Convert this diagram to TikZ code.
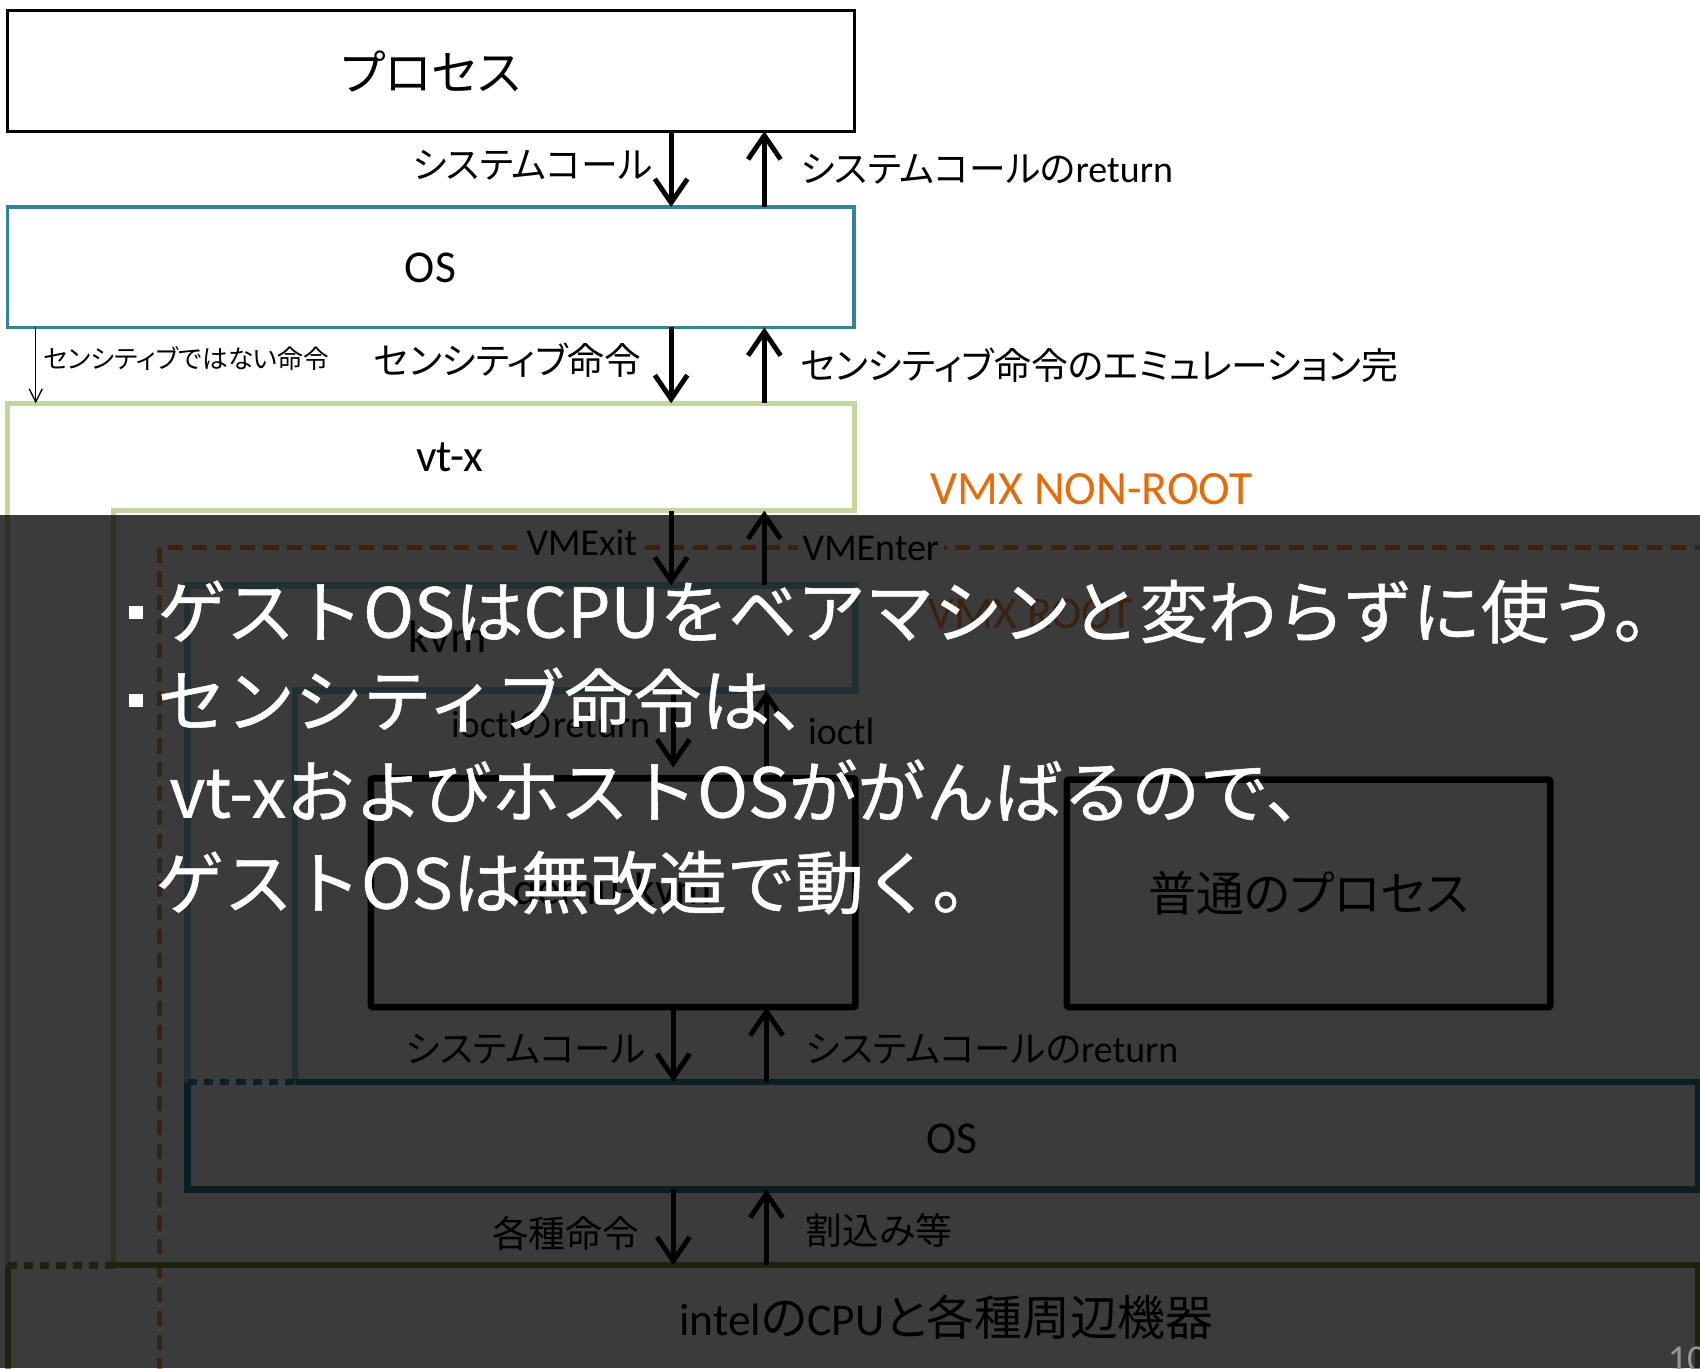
\documentclass[tikz,border=0pt]{standalone}
\usepackage{fontspec}
\setmainfont{Carlito}
\newfontfamily\jp[Scale=0.97,RawFeature=+palt]{Noto Sans CJK JP}
\newfontfamily\jpb[Scale=1.05,RawFeature=+palt]{Noto Sans CJK JP}
\newfontfamily\bigjp[FakeBold=0.8]{Noto Sans CJK JP}
\usetikzlibrary{arrows.meta,fit}
\definecolor{tealc}{RGB}{49,133,155}
\definecolor{aquac}{RGB}{147,205,221}
\definecolor{grnc}{RGB}{195,214,155}
\definecolor{olivec}{RGB}{119,147,60}
\definecolor{orngc}{RGB}{228,108,10}
\definecolor{orngtwo}{RGB}{247,150,70}
\definecolor{pgc}{RGB}{150,150,150}
\begin{document}
\begin{tikzpicture}[x=0.5pt,y=-0.5pt,
  fitb/.style={inner sep=0pt,outer sep=0pt},
  arr/.style={line width=2.25pt,-{Straight Barb[length=11pt,width=15pt]}},
  thinarr/.style={line width=0.6pt,-{Straight Barb[length=6pt,width=6pt]}},
  lab/.style={inner sep=0pt,font=\fontsize{17.5}{21}\selectfont},
  blab/.style={inner sep=0pt,font=\fontsize{21}{25}\selectfont},
  big/.style={inner sep=0pt,text=white,font=\bigjp\fontsize{31.6}{37}\selectfont},
  dotl/.style={dash pattern=on 4.25pt off 3.25pt},
]
\useasboundingbox (0,0) rectangle (1568,1262);
\begin{scope}
\clip (0,0) rectangle (1568,1262);
\fill[white] (0,0) rectangle (1568,1262);

\coordinate (xa) at (619,0);
\coordinate (xb) at (705,0);
\coordinate (xc) at (621,0);
\coordinate (xd) at (707,0);
\coordinate (xe) at (33,0);

% VMX ROOT dashed region
\draw[orngtwo,line width=2.3pt,dash pattern=on 7pt off 4pt] (147,505) rectangle (1620,1320);

% top process
\node[fitb,draw=black,line width=1.5pt,fit={(7,10)(788,121)}] (proc) {};
\node[blab] (proclab) at (proc.center) {\jpb プロセス};
% OS
\node[fitb,draw=tealc,line width=1.75pt,fit={(7,191)(788,302)}] (os) {};
\node[blab] (oslab) at (397,247) {OS};
% vt-x region
\node[fitb,fit={(7,372)(788,471)}] (vtx) {};
\draw[grnc,line width=2.25pt] (105,1167) -- (105,471) -- (788,471) -- (788,372) -- (7,372) -- (7,1167);
\node[blab] (vtxlab) at (415,422) {vt-x};
% CPU
\node[fitb,fit={(7,1167)(1566,1300)}] (cpu) {};
\draw[olivec,line width=2.75pt] (105,1167) -- (1566,1167) -- (1566,1320);
\draw[olivec,line width=2.75pt] (7,1167) -- (7,1320);
\draw[olivec,line width=3pt,dotl] (7,1167) -- (105,1167);
\node[blab] (cpulab) at (873,1215) {intel{\jpb の}CPU{\jpb と各種周辺機器}};
% kvm
\node[fitb,fit={(173,540)(789,637)}] (kvm) {};
\draw[aquac,line width=3pt] (272,998) -- (272,637) -- (789,637) -- (789,540) -- (173,540) -- (173,998);
\node[blab] (kvmlab) at (413,587) {kvm};
% host OS
\node[fitb,fit={(173,998)(1566,1097)}] (hos) {};
\draw[tealc,line width=3pt] (272,998) -- (1566,998) -- (1566,1097) -- (173,1097) -- (173,998);
\draw[tealc,line width=3.2pt,dotl] (173,998) -- (272,998);
\node[blab] (hoslab) at (878,1050) {OS};
% qemu-kvm and normal process
\node[fitb,draw=black,line width=3pt,rounded corners=1pt,fit={(342,718)(789,929)}] (qemu) {};
\node[blab] (qemulab) at (qemu.center) {qemu-kvm};
\node[fitb,draw=black,line width=3pt,rounded corners=1pt,fit={(984,719)(1430,929)}] (norm) {};
\node[blab] (normlab) at (norm.center) {\jpb 普通のプロセス};

% labels
\node[lab,anchor=east] (l1) at (602,152) {\jp システムコール};
\node[lab,anchor=west] (l2) at (738,156) {{\jp システムコールの}return};
\node[anchor=west,inner sep=0pt,font=\fontsize{12.2}{15}\selectfont\jp] (l3) at (40,331) {センシティブではない命令};
\node[lab,anchor=east] (l4) at (592,332) {\jp センシティブ命令};
\node[lab,anchor=west] (l5) at (738,337) {\jp センシティブ命令のエミュレーション完};
\node[blab,anchor=west,text=orngc,font=\fontsize{22}{26}\selectfont] (nonroot) at (858,451) {VMX NON-ROOT};
\node[lab,anchor=east,fill=white,inner sep=2pt] (l6) at (592,500) {VMExit};
\node[lab,anchor=west,fill=white,inner sep=2pt] (l7) at (736,506) {VMEnter};
\node[blab,anchor=west,text=orngtwo] (root) at (856,566) {VMX ROOT};
\node[lab,anchor=east] (l8) at (600,669) {ioctl{\jp の}return};
\node[lab,anchor=west] (l9) at (745,675) {ioctl};
\node[lab,anchor=east] (l10) at (596,968) {\jp システムコール};
\node[lab,anchor=west] (l11) at (743,968) {{\jp システムコールの}return};
\node[lab,anchor=east] (l12) at (590,1138) {\jp 各種命令};
\node[lab,anchor=west] (l13) at (743,1135) {\jp 割込み等};

% arrows
\draw[thinarr] (os.south -| xe) -- (vtx.north -| xe);
\draw[arr] (proc.south -| xa) -- (os.north -| xa);
\draw[arr] (os.north -| xb) -- (proc.south -| xb);
\draw[arr] (os.south -| xa) -- (vtx.north -| xa);
\draw[arr] (vtx.north -| xb) -- (os.south -| xb);
\draw[arr] (vtx.south -| xa) -- (kvm.north -| xa);
\draw[arr] (kvm.north -| xb) -- (vtx.south -| xb);
\draw[arr,shorten >=5pt] (kvm.south -| xc) -- (qemu.north -| xc);
\draw[arr,shorten <=5pt] (qemu.north -| xd) -- (kvm.south -| xd);
\draw[arr] (qemu.south -| xc) -- (hos.north -| xc);
\draw[arr] (hos.north -| xd) -- (qemu.south -| xd);
\draw[arr] (hos.south -| xc) -- (cpu.north -| xc);
\draw[arr] (cpu.north -| xd) -- (hos.south -| xd);

% dark overlay
\fill[black,opacity=0.77] (0,475) rectangle (1568,1262);

% overlay text
\fill[white] (119,559) rectangle (132,571);
\fill[white] (119,640) rectangle (132,652);
\node[big,anchor=base west] (t1) at (145,588) {ゲストOSはCPUをベアマシンと変わらずに使う。};
\node[big,anchor=base west] (t2) at (145,670) {センシティブ命令は、};
\node[big,anchor=base west] (t3) at (156,754) {vt-xおよびホストOSががんばるので、};
\node[big,anchor=base west] (t4) at (143,838) {ゲストOSは無改造で動く。};
\node[anchor=base west,inner sep=0pt,text=pgc,font=\fontsize{17.5}{20}\selectfont] (pg) at (1538,1265) {10};
\end{scope}
\end{tikzpicture}
\end{document}
